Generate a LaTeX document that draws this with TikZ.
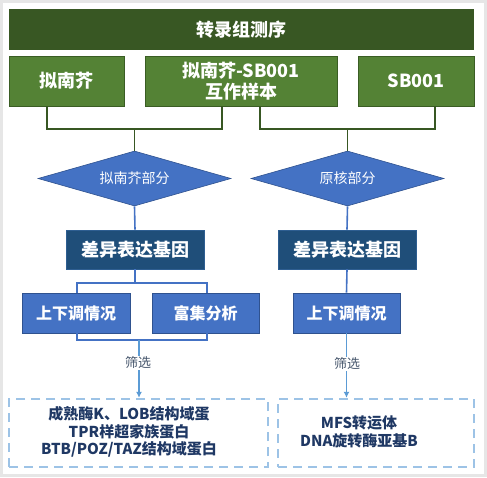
\documentclass[tikz,border=0pt]{standalone}
\usepackage{fontspec}
\setmainfont{Noto Sans CJK SC}
\usetikzlibrary{shapes.geometric,arrows.meta}
\definecolor{bggray}{HTML}{E6E6E6}
\definecolor{titlegreen}{HTML}{385723}
\definecolor{gfill}{HTML}{548235}
\definecolor{gborder}{HTML}{3A5D24}
\definecolor{dfill}{HTML}{4472C4}
\definecolor{dborder}{HTML}{2F528F}
\definecolor{efill}{HTML}{1F4E79}
\definecolor{eborder}{HTML}{2E5E91}
\definecolor{lblue}{HTML}{5B9BD5}
\definecolor{dashblue}{HTML}{9DC3E6}
\definecolor{navy}{HTML}{1F3864}
\definecolor{labgray}{HTML}{44546A}
\begin{document}
\begin{tikzpicture}[x=1pt,y=-1pt,
  titlebox/.style={fill=titlegreen, draw=none, inner sep=0pt, minimum width=465pt, minimum height=41pt,
    text=white, font=\bfseries\fontsize{18}{20}\selectfont},
  gbox/.style={draw=gborder, fill=gfill, line width=0.8pt, inner sep=0pt, minimum height=50pt,
    text=white, align=center, font=\bfseries\fontsize{18}{21.5}\selectfont},
  dbox/.style={diamond, aspect=3.5, draw=dborder, fill=dfill, line width=0.6pt, inner sep=0pt,
    minimum width=193pt, minimum height=55pt, text=white, font=\fontsize{14}{16}\selectfont},
  ebox/.style={draw=eborder, fill=efill, line width=0.8pt, inner sep=0pt, minimum width=138pt,
    minimum height=39pt, text=white, font=\bfseries\fontsize{18}{20}\selectfont},
  sbox/.style={draw=dborder, fill=dfill, line width=0.8pt, inner sep=0pt, minimum width=107pt,
    minimum height=40pt, text=white, font=\bfseries\fontsize{16}{18}\selectfont},
  gline/.style={draw=titlegreen, line width=1.6pt},
  bline/.style={draw=dfill, line width=1.6pt},
  lline/.style={draw=lblue, line width=1.6pt},
  flabel/.style={text=labgray, inner sep=1pt, font=\fontsize{13}{15}\selectfont},
  dashbox/.style={draw=dashblue, line width=2.4pt, dash pattern=on 9pt off 6pt, inner sep=0pt, minimum height=68pt},
  restext/.style={text=navy, align=center, inner sep=0pt, font=\bfseries\fontsize{15}{17.5}\selectfont}
]
\useasboundingbox (0,0) rectangle (487,477);
\fill[bggray] (0,0) rectangle (487,477);
\fill[white] (3,3) rectangle (484,474);

% title
\node[titlebox] (title) at (241.5,29.5) {转录组测序};

% green boxes
\node[gbox, minimum width=115pt] (b1) at (66.5,81) {拟南芥};
\node[gbox, minimum width=192pt] (b2) at (241,81) {拟南芥-SB001\\互作样本};
\node[gbox, minimum width=116pt] (b3) at (416,81) {SB001};

% diamonds
\node[dbox] (d1) at (134.5,178.5) {拟南芥部分};
\node[dbox] (d2) at (347.5,178.5) {原核部分};

% green connectors
\coordinate (j1) at (134.5,129);
\coordinate (j2) at (347.5,129);
\draw[gline] ([xshift=-19.5pt]b1.south) |- (j1) -| ([xshift=-19pt]b2.south);
\draw[gline] (j1) -- (d1.north);
\draw[gline] ([xshift=19pt]b2.south) |- (j2) -| ([xshift=19pt]b3.south);
\draw[gline] (j2) -- (d2.north);

% dark blue boxes
\node[ebox] (e1) at (135,249.5) {差异表达基因};
\node[ebox] (e2) at (347,249.5) {差异表达基因};
\draw[bline] (d1.south) -- (e1.north);
\draw[bline] (d2.south) -- (e2.north);

% small boxes
\node[sbox, minimum width=108pt] (s1) at (76,313) {上下调情况};
\node[sbox] (s2) at (205.5,313) {富集分析};
\node[sbox] (s3) at (346.5,313) {上下调情况};

\coordinate (k1) at (135,283);
\draw[bline] (e1.south) -- (k1);
\draw[bline] ([xshift=1pt]s1.north) |- (k1) -| ([xshift=1.5pt]s2.north);
\draw[bline] (e2.south) -- (s3.north);

% bottom bracket and filters
\coordinate (m1) at (139,340);
\draw[bline] ([xshift=1pt]s1.south) |- (m1) -| ([xshift=1.5pt]s2.south);

\node[flabel] (f1) at (138,363) {筛选};
\node[flabel] (f2) at (347,364) {筛选};

% dashed result boxes
\node[dashbox, minimum width=259pt] (r1) at (138.5,433) {};
\node[dashbox, minimum width=196pt] (r2) at (376,433) {};

\draw[lline] (m1) -- (f1.north -| m1);
\draw[lline, -{Latex[length=6pt,width=6pt]}] (f1.south -| m1) -- (r1.north -| m1);
\draw[lline] (s3.south) -- (f2.north -| s3.south);
\draw[lline, -{Latex[length=6pt,width=6pt]}] (f2.south -| s3.south) -- (r2.north -| s3.south);

\node[restext] (t1) at (129,432) {成熟酶K、LOB结构域蛋\\TPR样超家族蛋白\\BTB/POZ/TAZ结构域蛋白};
\node[restext] (t2) at (359,432) {MFS转运体\\DNA旋转酶亚基B};
\end{tikzpicture}
\end{document}
